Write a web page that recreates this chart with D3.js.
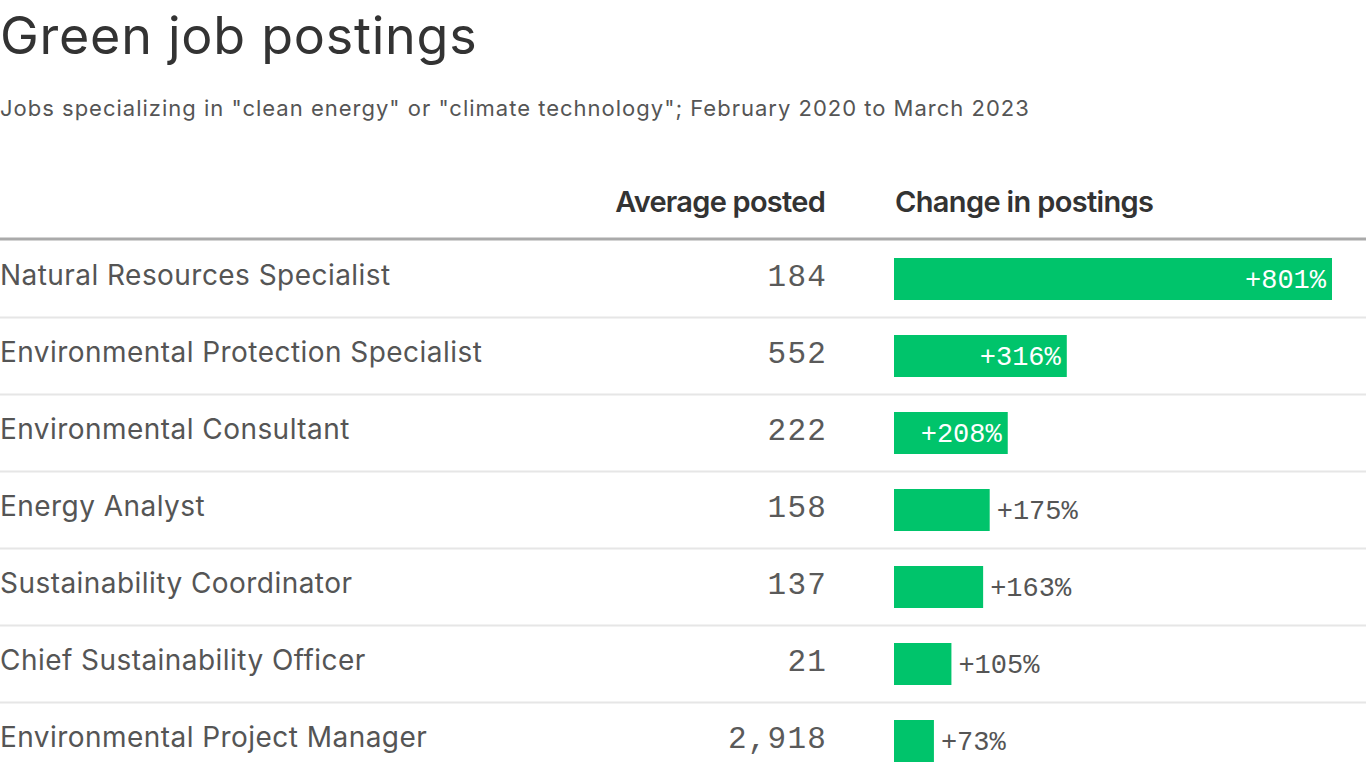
<!DOCTYPE html>
<html>
<head>
<meta charset="utf-8">
<script src="https://cdn.jsdelivr.net/npm/d3@7"></script>
<style>
  html, body { margin: 0; padding: 0; background: #fff; }
  svg { display: block; }
</style>
</head>
<body>
<svg id="chart" width="1366" height="768"></svg>
<script>
const titleText = "Green job postings";
const subtitleText = 'Jobs specializing in "clean energy" or "climate technology"; February 2020 to March 2023';
const headerAvg = "Average posted";
const headerChange = "Change in postings";

const jobs = [
  "Natural Resources Specialist",
  "Environmental Protection Specialist",
  "Environmental Consultant",
  "Energy Analyst",
  "Sustainability Coordinator",
  "Chief Sustainability Officer",
  "Environmental Project Manager"
];
const averagePosted = [184, 552, 222, 158, 137, 21, 2918];
const changePct = [801, 316, 208, 175, 163, 105, 73];

const svg = d3.select("#chart");
const W = 1366;
const sans = "Inter, Roboto, 'Liberation Sans', sans-serif";
const mono = "'Liberation Mono', 'DejaVu Sans Mono', monospace";

svg.append("text").attr("x", 0).attr("y", 54)
  .attr("font-family", sans).attr("font-size", 52).attr("fill", "#333")
  .attr("letter-spacing", 0.75)
  .text(titleText);

svg.append("text").attr("x", 0).attr("y", 116)
  .attr("font-family", sans).attr("font-size", 22).attr("fill", "#555")
  .attr("letter-spacing", 1.0)
  .text(subtitleText);

svg.append("text").attr("x", 825).attr("y", 212).attr("text-anchor", "end")
  .attr("font-family", sans).attr("font-weight", 600).attr("font-size", 29).attr("fill", "#333")
  .attr("letter-spacing", -0.75)
  .text(headerAvg);
svg.append("text").attr("x", 895).attr("y", 212)
  .attr("font-family", sans).attr("font-weight", 600).attr("font-size", 29).attr("fill", "#333")
  .attr("letter-spacing", -0.65)
  .text(headerChange);

svg.append("line").attr("x1", 0).attr("x2", W).attr("y1", 239).attr("y2", 239)
  .attr("stroke", "#aaa").attr("stroke-width", 3);

const y = d3.scaleBand().domain(jobs).range([240.5, 240.5 + 77 * jobs.length]).paddingInner(0).paddingOuter(0);
const x = d3.scaleLinear().domain([0, 801]).range([894, 1332]);

const rows = svg.append("g").selectAll("g").data(jobs).join("g")
  .attr("transform", d => `translate(0,${y(d)})`);

rows.filter((d, i) => i > 0).append("line")
  .attr("x1", 0).attr("x2", W).attr("y1", 0).attr("y2", 0)
  .attr("stroke", "#e6e6e6").attr("stroke-width", 2);

const bh = y.bandwidth();
rows.append("text").attr("x", 0).attr("y", bh / 2 + 6)
  .attr("font-family", sans).attr("font-size", 28).attr("fill", "#555")
  .attr("letter-spacing", 0.45)
  .text(d => d);

const fmt = d3.format(",");
rows.append("text").attr("x", 827).attr("y", bh / 2 + 7).attr("text-anchor", "end")
  .attr("font-family", mono).attr("font-size", 31).attr("fill", "#5a5a5a")
  .attr("letter-spacing", 1.2)
  .text((d, i) => fmt(averagePosted[i]));

rows.append("rect")
  .attr("x", x(0)).attr("y", bh / 2 - 21)
  .attr("width", (d, i) => x(changePct[i]) - x(0)).attr("height", 42)
  .attr("fill", "#00c46b");

rows.append("text")
  .attr("x", (d, i) => (x(changePct[i]) - x(0) > 110) ? x(changePct[i]) - 6 : x(changePct[i]) + 7)
  .attr("y", bh / 2 + 9)
  .attr("text-anchor", (d, i) => (x(changePct[i]) - x(0) > 110) ? "end" : "start")
  .attr("font-family", mono).attr("font-size", 27)
  .attr("fill", (d, i) => (x(changePct[i]) - x(0) > 110) ? "#fff" : "#555")
  .text((d, i) => "+" + changePct[i] + "%");
</script>
</body>
</html>
